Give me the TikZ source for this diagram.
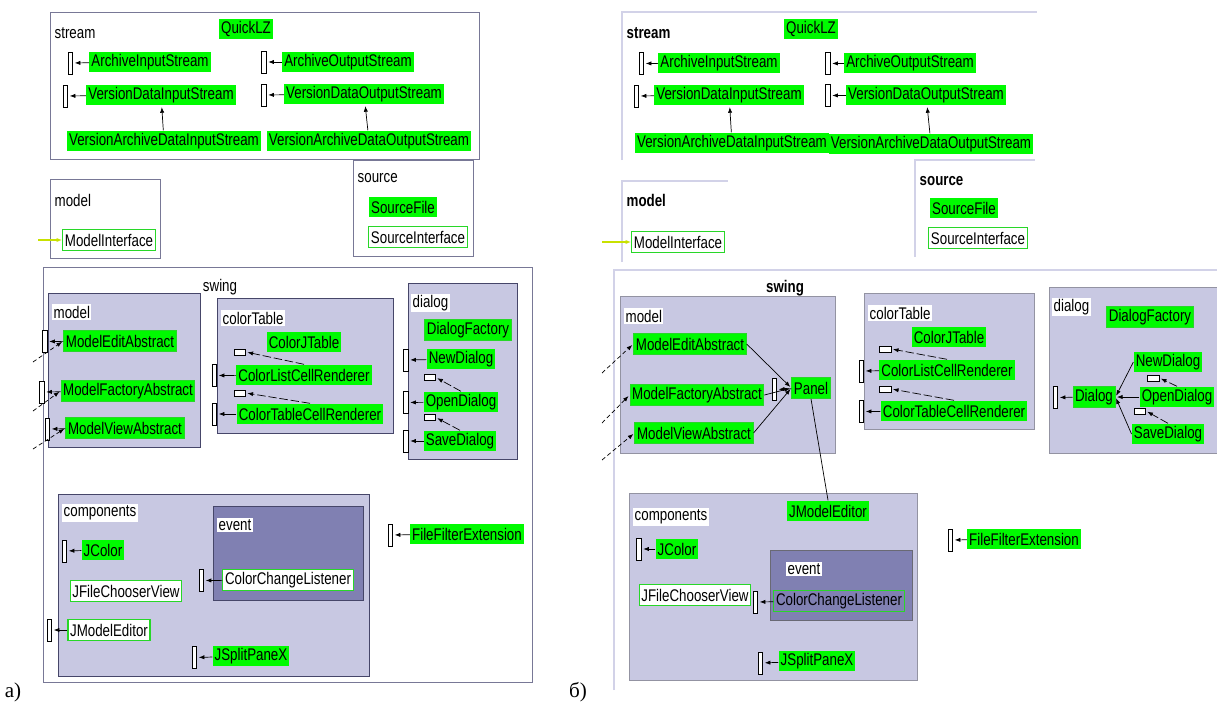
\documentclass[tikz,border=0pt]{standalone}
\usepackage{fontspec}
\setmainfont{Liberation Sans}
\newfontfamily\dgfont[FakeStretch=0.79]{Liberation Sans}
\newfontfamily\capfont{Liberation Serif}
\usetikzlibrary{arrows.meta}
\definecolor{clsgreen}{RGB}{0,250,0}
\definecolor{clsedge}{RGB}{40,215,40}
\definecolor{pkgfill}{RGB}{200,200,226}
\definecolor{pkgedge}{RGB}{70,70,105}
\definecolor{evtfill}{RGB}{128,128,178}
\definecolor{topline}{RGB}{210,210,232}
\definecolor{ifline}{RGB}{200,225,0}
\definecolor{outedge}{RGB}{120,120,150}

\tikzset{
  cls/.style={fill=clsgreen, font=\dgfont\fontsize{12}{14}\selectfont, inner xsep=1.5pt, inner ysep=1pt, minimum height=0.52cm},
  clsboth/.style={cls, draw=clsedge, line width=0.7pt},
  clsout/.style={cls, fill=white, draw=clsedge, line width=0.8pt},
  iface/.style={draw=black, fill=white, line width=0.6pt, inner sep=0pt, minimum width=0.12cm, minimum height=0.55cm},
  stub/.style={draw=black, fill=white, line width=0.6pt, inner sep=0pt, minimum width=0.28cm, minimum height=0.15cm},
  pkg/.style={fill=pkgfill, draw=pkgedge, line width=0.6pt},
  evt/.style={fill=evtfill, draw=pkgedge, line width=0.6pt},
  outer/.style={fill=white, draw=outedge, line width=0.6pt},
  pkglbl/.style={fill=white, inner sep=1pt, font=\dgfont\fontsize{12}{14}\selectfont, anchor=west},
  boldlbl/.style={pkglbl, font=\dgfont\fontsize{12}{14}\selectfont\bfseries},
  realize/.style={-{Latex[length=4pt,width=3pt]}, line width=0.5pt, shorten >=1pt},
  dep/.style={realize, dash pattern=on 3pt off 2pt},
  stubline/.style={realize, dash pattern=on 6pt off 2pt},
  ifuse/.style={-{Latex[length=4pt,width=3pt]}, ifline, line width=0.8pt},
  tline/.style={topline, line width=0.8pt}
}

\begin{document}
\begin{tikzpicture}[x=0.025cm,y=-0.025cm]
\useasboundingbox (0,0) rectangle (1217,705);

\draw[outer] (50,12) rectangle (479,159);
\node[pkglbl] (aStream) at (53,33) {stream};
\node[cls] (aQLZ) at (246,29) {QuickLZ};
\node[cls] (aAIS) at (150,62) {ArchiveInputStream};
\node[iface] (aAISi) at (70.5,63) {};
\node[cls] (aVDIS) at (161,95) {VersionDataInputStream};
\node[iface] (aVDISi) at (65.5,96) {};
\node[cls] (aVADIS) at (164,141) {VersionArchiveDataInputStream};
\node[cls] (aAOS) at (348,62) {ArchiveOutputStream};
\node[iface] (aAOSi) at (264,62) {};
\node[cls] (aVDOS) at (364,94) {VersionDataOutputStream};
\node[iface] (aVDOSi) at (264,95) {};
\node[cls] (aVADOS) at (369,141) {VersionArchiveDataOutputStream};
\draw[realize] (aAIS) -- (aAISi);
\draw[realize] (aVDIS) -- (aVDISi);
\draw[realize] (aAOS) -- (aAOSi);
\draw[realize] (aVDOS) -- (aVDOSi);
\draw[realize] (aVADIS) -- (aVDIS);
\draw[realize] (aVADOS) -- (aVDOS);

\draw[outer] (50,179) rectangle (160,258);
\node[pkglbl] (aModel) at (53,200) {model};
\node[clsout] (aMI) at (109,240) {ModelInterface};
\coordinate (aMIin) at (38,240);
\draw[ifuse] (aMIin) -- (aMI);

\draw[outer] (353,160) rectangle (473,256);
\node[pkglbl] (aSource) at (356,178) {source};
\node[cls] (aSF) at (403,207) {SourceFile};
\node[clsout] (aSI) at (418,237) {SourceInterface};

\draw[outer] (43,267) rectangle (532,682);
\node[pkglbl, anchor=center] (aSwing) at (220,287) {swing};

\draw[pkg] (48,293) rectangle (200,447);
\node[pkglbl] (aModel2) at (52,312) {model};
\node[clsboth] (aMEA) at (120,341) {ModelEditAbstract};
\node[iface] (aMEAi) at (45,341.5) {};
\node[clsboth] (aMFA) at (128,391) {ModelFactoryAbstract};
\node[iface] (aMFAi) at (42,392) {};
\node[clsboth] (aMVA) at (125,428) {ModelViewAbstract};
\node[iface] (aMVAi) at (47.5,429) {};
\coordinate (aIn1) at (33,362);
\coordinate (aIn2) at (33,411);
\coordinate (aIn3) at (33,449);
\draw[realize] (aMEA) -- (aMEAi);
\draw[realize] (aMFA) -- (aMFAi);
\draw[realize] (aMVA) -- (aMVAi);
\draw[dep] (aIn1) -- (aMEA.west);
\draw[dep] (aIn2) -- (aMFA.west);
\draw[dep] (aIn3) -- (aMVA.west);

\draw[pkg] (217,298) rectangle (393,433);
\node[pkglbl] (aColorTable) at (221,318) {colorTable};
\node[cls] (aCJT) at (304,342) {ColorJTable};
\node[stub] (aS1) at (240,352) {};
\node[cls] (aCLR) at (304,375) {ColorListCellRenderer};
\node[iface] (aCLRi) at (214.5,375.5) {};
\node[stub] (aS2) at (240,393) {};
\node[cls] (aCTR) at (310,414) {ColorTableCellRenderer};
\node[iface] (aCTRi) at (214.5,414) {};
\draw[stubline] (aCLR.north) -- (aS1.east);
\draw[stubline] (aCTR.north) -- (aS2.east);
\draw[realize] (aCLR) -- (aCLRi);
\draw[realize] (aCTR) -- (aCTRi);

\draw[pkg] (408,283) rectangle (517,459);
\node[pkglbl] (aDialog) at (411,303) {dialog};
\node[clsboth] (aDF) at (468,330) {DialogFactory};
\node[cls] (aND) at (461,359) {NewDialog};
\node[iface] (aNDi) at (406,360) {};
\node[stub] (aS3) at (430,377.5) {};
\node[cls] (aOD) at (461,402) {OpenDialog};
\node[iface] (aODi) at (406,402.5) {};
\node[stub] (aS4) at (430,417.5) {};
\node[cls] (aSD) at (460,441) {SaveDialog};
\node[iface] (aSDi) at (406,441) {};
\draw[stubline] (aOD.north) -- (aS3.east);
\draw[stubline] (aSD.north) -- (aS4.east);
\draw[realize] (aND) -- (aNDi);
\draw[realize] (aOD) -- (aODi);
\draw[realize] (aSD) -- (aSDi);

\draw[pkg] (58,494) rectangle (369,676);
\node[pkglbl] (aComp) at (62,513) {components};
\draw[evt] (213,506) rectangle (363,600);
\node[pkglbl] (aEvent) at (217,525) {event};
\node[clsout] (aCCL) at (288,580) {ColorChangeListener};
\node[iface] (aCCLi) at (201.5,580.5) {};
\node[cls] (aJC) at (103,550) {JColor};
\node[iface] (aJCi) at (64.5,551) {};
\node[clsout] (aJFCV) at (126,591) {JFileChooserView};
\node[clsout] (aJME) at (109,630) {JModelEditor};
\node[iface] (aJMEi) at (49.5,630) {};
\node[cls] (aJSP) at (251,656) {JSplitPaneX};
\node[iface] (aJSPi) at (194.5,657.5) {};
\node[cls] (aFFE) at (467,534) {FileFilterExtension};
\node[iface] (aFFEi) at (390.5,535) {};
\draw[realize] (aCCL) -- (aCCLi);
\draw[realize] (aJC) -- (aJCi);
\draw[realize] (aJME) -- (aJMEi);
\draw[realize] (aJSP) -- (aJSPi);
\draw[realize] (aFFE) -- (aFFEi);

\node[font=\capfont\fontsize{15}{17}\selectfont] (capA) at (13,692) {а)};

\draw[tline] (622,160) |- (1037,12);
\node[boldlbl] (bStream) at (625,33) {stream};
\node[cls] (bQLZ) at (811,29) {QuickLZ};
\node[cls] (bAIS) at (719,63) {ArchiveInputStream};
\node[iface] (bAISi) at (641.5,63.5) {};
\node[cls] (bVDIS) at (729,95) {VersionDataInputStream};
\node[iface] (bVDISi) at (636.5,96) {};
\node[cls] (bVADIS) at (732,143) {VersionArchiveDataInputStream};
\node[cls] (bAOS) at (910,63) {ArchiveOutputStream};
\node[iface] (bAOSi) at (828,63.5) {};
\node[cls] (bVDOS) at (926,95) {VersionDataOutputStream};
\node[iface] (bVDOSi) at (828,95.5) {};
\node[cls] (bVADOS) at (931,144) {VersionArchiveDataOutputStream};
\draw[realize] (bAIS) -- (bAISi);
\draw[realize] (bVDIS) -- (bVDISi);
\draw[realize] (bAOS) -- (bAOSi);
\draw[realize] (bVDOS) -- (bVDOSi);
\draw[realize] (bVADIS) -- (bVDIS);
\draw[realize] (bVADOS) -- (bVDOS);

\draw[tline] (622,262) |- (728,181);
\node[boldlbl] (bModel) at (625,200) {model};
\node[clsout] (bMI) at (678,242) {ModelInterface};
\coordinate (bMIin) at (602,242);
\draw[ifuse] (bMIin) -- (bMI);

\draw[tline] (915,257) |- (1035,160);
\node[boldlbl] (bSource) at (918,181) {source};
\node[cls] (bSF) at (964,208) {SourceFile};
\node[clsout] (bSI) at (978,238) {SourceInterface};

\draw[tline] (614,690) |- (1217,270);
\node[boldlbl, anchor=center] (bSwing) at (785,288) {swing};

\draw[pkg, draw=topline!70!black] (620,296) rectangle (835,453);
\node[pkglbl] (bModel2) at (624,316) {model};
\node[clsboth] (bMEA) at (690,344) {ModelEditAbstract};
\node[clsboth] (bMFA) at (697,395) {ModelFactoryAbstract};
\node[clsboth] (bMVA) at (694,433) {ModelViewAbstract};
\node[clsboth] (bPanel) at (811,388) {Panel};
\node[iface] (bPaneli) at (774.5,389.5) {};
\coordinate (bIn1) at (602,373);
\coordinate (bIn2) at (602,423);
\coordinate (bIn3) at (602,460);
\draw[dep] (bIn1) -- (bMEA.west);
\draw[dep] (bIn2) -- (bMFA.west);
\draw[dep] (bIn3) -- (bMVA.west);
\draw[realize] (bPanel) -- (bPaneli);
\draw[realize] (bMEA.east) -- (bPanel.west);
\draw[realize] (bMFA.east) -- (bPanel.west);
\draw[realize] (bMVA.east) -- (bPanel.west);

\draw[pkg, draw=topline!70!black] (864,293) rectangle (1034,429);
\node[pkglbl] (bColorTable) at (868,313) {colorTable};
\node[cls] (bCJT) at (949,337) {ColorJTable};
\node[stub] (bS1) at (885.5,349) {};
\node[cls] (bCLR) at (947,370) {ColorListCellRenderer};
\node[iface] (bCLRi) at (861.5,371) {};
\node[stub] (bS2) at (885.5,389) {};
\node[cls] (bCTR) at (954,411) {ColorTableCellRenderer};
\node[iface] (bCTRi) at (861.5,411.5) {};
\draw[stubline] (bCLR.north) -- (bS1.east);
\draw[stubline] (bCTR.north) -- (bS2.east);
\draw[realize] (bCLR) -- (bCLRi);
\draw[realize] (bCTR) -- (bCTRi);

\draw[pkg, draw=topline!70!black] (1049,287) rectangle (1222,453);
\node[pkglbl] (bDialog) at (1052,307) {dialog};
\node[clsboth] (bDF) at (1150,317) {DialogFactory};
\node[clsboth] (bDlg) at (1094,397) {Dialog};
\node[iface] (bDlgi) at (1055.5,397.5) {};
\node[cls] (bND) at (1168,362) {NewDialog};
\node[stub] (bS3) at (1153.5,378) {};
\node[cls] (bOD) at (1177,397) {OpenDialog};
\node[stub] (bS4) at (1140,411) {};
\node[cls] (bSD) at (1168,434) {SaveDialog};
\draw[stubline] (bOD.north) -- (bS3.east);
\draw[stubline] (bSD.north) -- (bS4.east);
\draw[realize] (bDlg) -- (bDlgi);
\draw[realize] (bND.west) -- (bDlg.east);
\draw[realize] (bOD.west) -- (bDlg.east);
\draw[realize] (bSD.west) -- (bDlg.east);

\draw[pkg, draw=topline!70!black] (629,493) rectangle (917,680);
\node[pkglbl] (bComp) at (633,517) {components};
\node[cls] (bJME) at (828,511) {JModelEditor};
\draw[line width=0.5pt] (bPanel.south) -- (bJME.north);
\node[cls] (bJC) at (677,549) {JColor};
\node[iface] (bJCi) at (639,549) {};
\draw[evt, draw=topline!50!black] (770,550) rectangle (912,620);
\node[pkglbl] (bEvent) at (786,569) {event};
\node[clsout] (bJFCV) at (695,595) {JFileChooserView};
\node[clsout, fill=evtfill] (bCCL) at (839,601) {ColorChangeListener};
\node[iface] (bCCLi) at (755.5,602) {};
\node[cls] (bJSP) at (817,661) {JSplitPaneX};
\node[iface] (bJSPi) at (760.5,663) {};
\node[cls] (bFFE) at (1024,539) {FileFilterExtension};
\node[iface] (bFFEi) at (950.5,540) {};
\draw[realize] (bJC) -- (bJCi);
\draw[realize] (bCCL) -- (bCCLi);
\draw[realize] (bJSP) -- (bJSPi);
\draw[realize] (bFFE) -- (bFFEi);

\node[font=\capfont\fontsize{15}{17}\selectfont] (capB) at (578,692) {б)};
\end{tikzpicture}
\end{document}
